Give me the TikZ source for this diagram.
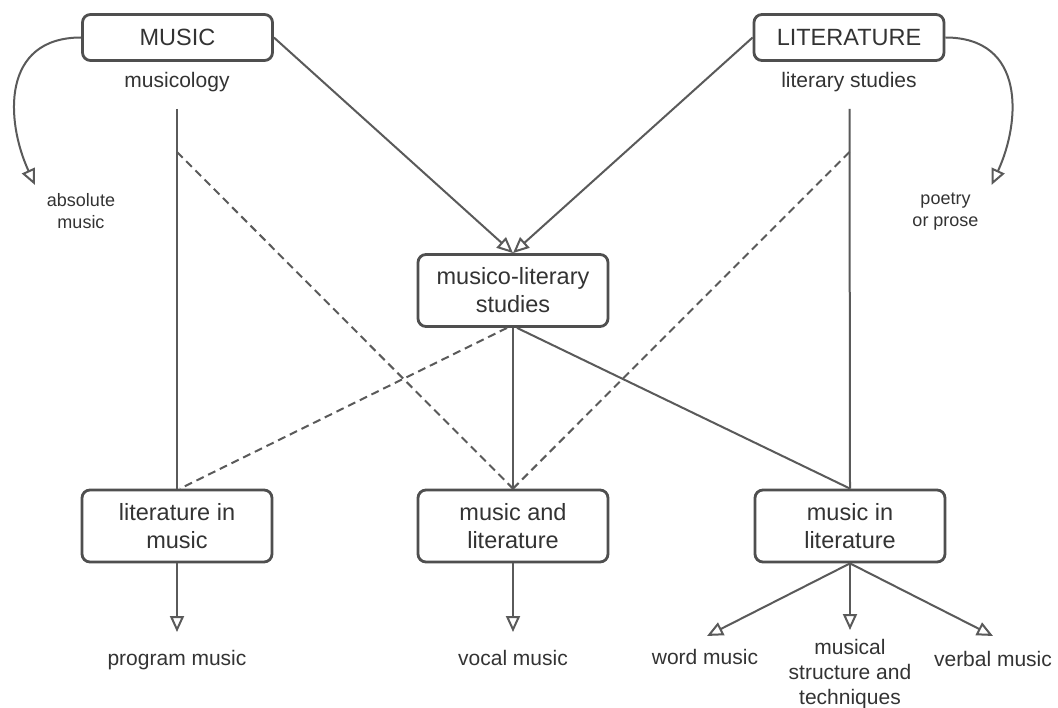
\documentclass[tikz,border=0pt]{standalone}
\usepackage{fontspec}
\setmainfont{Liberation Sans}
\usetikzlibrary{arrows.meta}
\definecolor{ln}{HTML}{5A5A5A}
\definecolor{bx}{HTML}{4F4F4F}
\definecolor{tx}{HTML}{333333}
\begin{document}
\begin{tikzpicture}[x=1pt,y=-1pt,
  box/.style={draw=bx, line width=2.8pt, rounded corners=8pt, fill=white,
    minimum width=190pt, inner sep=0pt, align=center, text=tx,
    font=\fontsize{23.5}{28}\selectfont},
  topbox/.style={box, minimum height=46pt},
  twobox/.style={box, minimum height=72pt},
  lab/.style={inner sep=0pt, text=tx, align=center, font=\fontsize{21}{25}\selectfont},
  small/.style={inner sep=0pt, text=tx, align=center, font=\fontsize{18}{22}\selectfont},
  con/.style={draw=ln, line width=2pt},
  arr/.style={con, -{Triangle[open, length=16pt, width=14pt]}},
  dsh/.style={con, dash pattern=on 8pt off 5pt},
]
\fill[white] (0,0) rectangle (1058,708);
\useasboundingbox (0,0) rectangle (1058,708);

% boxes
\node[topbox] (music) at (177.5,37.5) {MUSIC};
\node[topbox] (lit) at (849,37.5) {LITERATURE};
\node[twobox] (musico) at (513,290.5) {musico-literary\\studies};
\node[twobox] (litmus) at (177,526) {literature in\\music};
\node[twobox] (musand) at (513,526) {music and\\literature};
\node[twobox] (musin) at (850,526) {music in\\literature};

% labels
\node[lab, anchor=base] (musicology) at (177,88) {musicology};
\node[lab, anchor=base] (litstud) at (849,88) {literary studies};
\node[small] (absolute) at (81,211) {absolute\\music};
\node[small] (poetry) at (945.5,212) {poetry\\or prose};
\node[lab, anchor=base] (program) at (177,665) {program music};
\node[lab, anchor=base] (vocal) at (513,665) {vocal music};
\node[lab, anchor=base] (word) at (705,664) {word music};
\node[lab] (structure) at (850,674) {musical\\structure and\\techniques};
\node[lab, anchor=base] (verbal) at (993,666) {verbal music};

% free ends
\coordinate (mL) at (177,109);
\coordinate (dL) at (177,152);
\coordinate (mR) at (849.5,109);
\coordinate (dR) at (849.5,152);
\coordinate (tA) at (35,185);
\coordinate (tB) at (991.5,185);
\coordinate (t1) at (177,632);
\coordinate (t2) at (513,632);
\coordinate (t3) at (707,636);
\coordinate (t4) at (850,630);
\coordinate (t5) at (993,636);

% curved arrows
\draw[arr] (music.west) .. controls (1,37.5) and (5.6,121) .. (tA);
\draw[arr] (lit.east) .. controls (1025.5,37.5) and (1021,121) .. (tB);

% into musico-literary
\draw[arr] (music.east) -- (musico.north);
\draw[arr] (lit.west) -- (musico.north);

% verticals from disciplines
\draw[con] (mL) -- (litmus.north);
\draw[con] (mR) -- (musin.north);
\draw[dsh] (dL) -- (musand.north);
\draw[dsh] (dR) -- (musand.north);

% from musico-literary
\draw[dsh] ([xshift=-6pt]musico.south) -- ([xshift=3pt]litmus.north);
\draw[con] (musico.south) -- (musand.north);
\draw[con] ([xshift=4pt]musico.south) -- (musin.north);

% bottom arrows
\draw[arr] (litmus.south) -- (t1);
\draw[arr] (musand.south) -- (t2);
\draw[arr] (musin.south) -- (t3);
\draw[arr] (musin.south) -- (t4);
\draw[arr] (musin.south) -- (t5);
\end{tikzpicture}
\end{document}
